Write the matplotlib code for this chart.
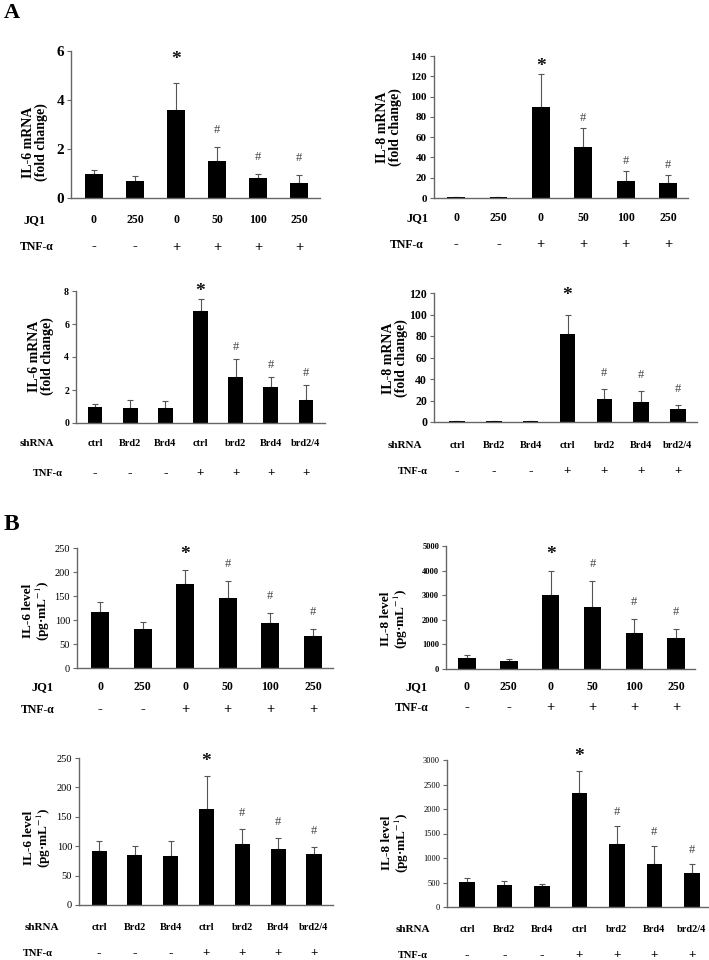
import numpy as np
import matplotlib
matplotlib.use("Agg")
import matplotlib.pyplot as plt
import matplotlib.transforms as mtransforms

plt.rcParams['font.family'] = ['Liberation Serif', 'DejaVu Serif']
plt.rcParams['mathtext.fontset'] = 'stix'

W, H = 709, 960

# ---- data ----
jq1_doses = ['0', '250', '0', '50', '100', '250']
jq1_tnf = ['-', '-', '+', '+', '+', '+']
sh_names = ['ctrl', 'Brd2', 'Brd4', 'ctrl', 'brd2', 'Brd4', 'brd2/4']
sh_tnf = ['-', '-', '-', '+', '+', '+', '+']

il6_mrna_jq1 = [1.0, 0.68, 3.6, 1.5, 0.82, 0.6]
il6_mrna_jq1_err = [0.15, 0.2, 1.1, 0.6, 0.18, 0.32]
il8_mrna_jq1 = [1.0, 1.0, 90, 50, 17, 15]
il8_mrna_jq1_err = [0, 0, 32, 19, 10, 8]

il6_mrna_sh = [1.0, 0.9, 0.9, 6.8, 2.8, 2.2, 1.4]
il6_mrna_sh_err = [0.15, 0.5, 0.45, 0.7, 1.1, 0.6, 0.9]
il8_mrna_sh = [1.2, 0.8, 0.8, 82, 21, 19, 12]
il8_mrna_sh_err = [0, 0, 0, 18, 10, 10, 4]

il6_lvl_jq1 = [117, 82, 174, 146, 93, 66]
il6_lvl_jq1_err = [21, 14, 30, 36, 22, 16]
il8_lvl_jq1 = [450, 310, 3000, 2530, 1470, 1250]
il8_lvl_jq1_err = [100, 90, 1000, 1040, 560, 390]

il6_lvl_sh = [92, 85, 83, 164, 104, 96, 87]
il6_lvl_sh_err = [17, 15, 25, 56, 26, 18, 12]
il8_lvl_sh = [520, 450, 420, 2330, 1290, 880, 700]
il8_lvl_sh_err = [70, 80, 50, 450, 370, 370, 180]

# significance marks: '*' vs ctrl, '#' vs TNF-alpha
jq1_marks = ['', '', '*', '#', '#', '#']
sh_marks = ['', '', '', '*', '#', '#', '#']

fig = plt.figure(figsize=(W / 100, H / 100), dpi=100)


def fx(x):
    return x / W


def fy(y):
    return 1 - y / H


def panel(box, xlim, vals, errs, ymax, ystep, ylabel, lab_xy,
          row_name, row_vals, row_y, row_x, tnf_vals, tnf_y, tnf_x,
          marks, offs, tick_fs=10, tick_bold=True, lab_fs=10, row_fs=8.5):
    x0, yt, x1, y0 = box
    ax = fig.add_axes([fx(x0), fy(y0), (x1 - x0) / W, (y0 - yt) / H])
    pos = np.arange(len(vals))
    ax.bar(pos, vals, width=0.42, color='black', zorder=2)
    low = np.zeros(len(vals))
    ax.errorbar(pos, vals, yerr=[low, errs], fmt='none', ecolor='#555555',
                elinewidth=0.8, capsize=2, capthick=0.8, zorder=1)
    ax.set_xlim(*xlim)
    ax.set_ylim(0, ymax)
    ax.set_yticks(np.arange(0, ymax + ystep / 2, ystep))
    for s in ['top', 'right']:
        ax.spines[s].set_visible(False)
    for s in ['left', 'bottom']:
        ax.spines[s].set_color('#666666')
        ax.spines[s].set_linewidth(1.0)
    ax.set_xticks([])
    ax.tick_params(axis='y', length=3, width=0.8, color='#666666', pad=2,
                   labelsize=tick_fs)
    for t in ax.get_yticklabels():
        t.set_fontweight('bold' if tick_bold else 'normal')

    # significance marks
    for i, m in enumerate(marks):
        if not m:
            continue
        top = vals[i] + errs[i]
        off = offs[0] if m == '*' else offs[1]
        ax.annotate(m, (pos[i], top), xytext=(0, off), textcoords='offset pixels',
                    ha='center', va='center',
                    fontsize=14 if m == '*' else 9,
                    fontweight='bold' if m == '*' else 'normal',
                    color='#111111' if m == '*' else '#444444')

    fig.text(fx(lab_xy[0]), fy(lab_xy[1]), ylabel, rotation=90, ha='center',
             va='center', multialignment='center', fontsize=lab_fs,
             fontweight='bold', linespacing=1.0)

    tr = mtransforms.blended_transform_factory(ax.transData, fig.transFigure)
    fig.text(fx(row_x), fy(row_y), row_name, ha='center', va='center',
             fontsize=row_fs + 0.5, fontweight='bold')
    for i, v in enumerate(row_vals):
        ax.text(pos[i], fy(row_y), v, transform=tr, ha='center', va='center',
                fontsize=row_fs, fontweight='bold')
    fig.text(fx(tnf_x), fy(tnf_y), 'TNF-α', ha='center', va='center',
             fontsize=row_fs, fontweight='bold')
    for i, v in enumerate(tnf_vals):
        ax.text(pos[i], fy(tnf_y), v, transform=tr, ha='center', va='center',
                fontsize=row_fs + 2, fontweight='bold')
    return ax


# ----- A -----
panel((71, 51, 320, 198), (-0.56, 5.51), il6_mrna_jq1, il6_mrna_jq1_err, 6, 2,
      'IL-6 mRNA\n(fold change)', (35, 142),
      'JQ1', jq1_doses, 220, 35, jq1_tnf, 247, 37, jq1_marks, (23, 17),
      tick_fs=11)
panel((434, 56, 688, 198), (-0.52, 5.47), il8_mrna_jq1, il8_mrna_jq1_err, 140, 20,
      'IL-8 mRNA\n(fold change)', (389, 127),
      'JQ1', jq1_doses, 218, 418, jq1_tnf, 245, 407, jq1_marks, (8, 10),
      tick_fs=8)
panel((76, 291, 325, 423), (-0.54, 6.54), il6_mrna_sh, il6_mrna_sh_err, 8, 2,
      'IL-6 mRNA\n(fold change)', (41, 356),
      'shRNA', sh_names, 443, 37, sh_tnf, 473, 48, sh_marks, (8, 12),
      tick_fs=7, row_fs=7.5)
panel((434, 293, 697, 422), (-0.63, 6.52), il8_mrna_sh, il8_mrna_sh_err, 120, 20,
      'IL-8 mRNA\n(fold change)', (395, 358),
      'shRNA', sh_names, 445, 405, sh_tnf, 471, 413, sh_marks, (19, 16),
      tick_fs=8.5, row_fs=7.5)

# ----- B -----
panel((77, 548, 333, 668), (-0.54, 5.47), il6_lvl_jq1, il6_lvl_jq1_err, 250, 50,
      'IL-6 level\n(pg·mL$^{-1}$)', (37, 611),
      'JQ1', jq1_doses, 687, 43, jq1_tnf, 710, 38, jq1_marks, (16, 17),
      tick_fs=7.5, tick_bold=False, lab_fs=9.5)
panel((446, 546, 695, 669), (-0.50, 5.45), il8_lvl_jq1, il8_lvl_jq1_err, 5000, 1000,
      'IL-8 level\n(pg·mL$^{-1}$)', (395, 619),
      'JQ1', jq1_doses, 687, 417, jq1_tnf, 708, 412, jq1_marks, (16, 17),
      tick_fs=6, lab_fs=9.5)
panel((79, 758, 333, 905), (-0.56, 6.53), il6_lvl_sh, il6_lvl_sh_err, 250, 50,
      'IL-6 level\n(pg·mL$^{-1}$)', (38, 838),
      'shRNA', sh_names, 928, 42, sh_tnf, 953, 38, sh_marks, (14, 16),
      tick_fs=7.5, tick_bold=False, row_fs=7.5, lab_fs=9.5)
panel((447, 760, 708, 907), (-0.53, 6.43), il8_lvl_sh, il8_lvl_sh_err, 3000, 500,
      'IL-8 level\n(pg·mL$^{-1}$)', (396, 843),
      'shRNA', sh_names, 930, 413, sh_tnf, 955, 413, sh_marks, (14, 14),
      tick_fs=6, tick_bold=False, row_fs=7.5, lab_fs=9.5)

fig.text(fx(4), fy(13), 'A', fontsize=16, fontweight='bold', va='center', ha='left')
fig.text(fx(4), fy(525), 'B', fontsize=17, fontweight='bold', va='center', ha='left')

fig.savefig('out.png', dpi=100)
